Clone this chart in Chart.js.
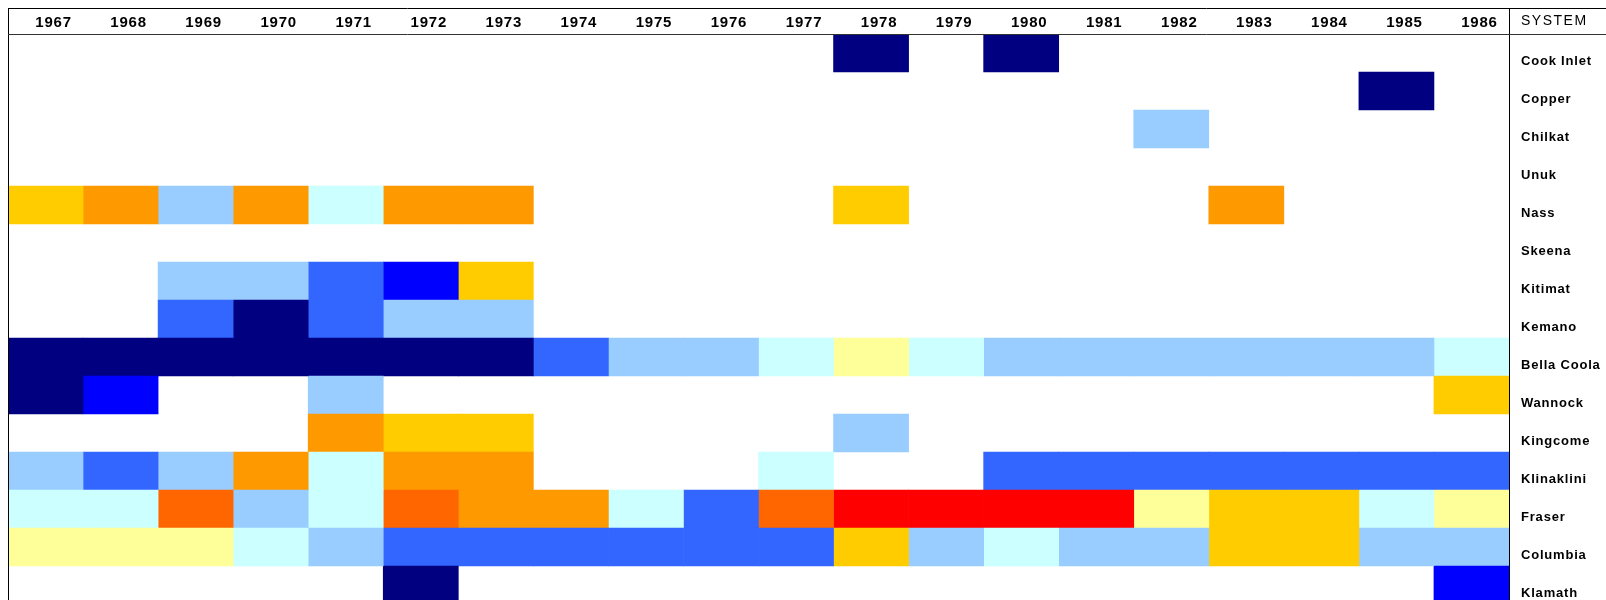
<!DOCTYPE html>
<html>
<head>
<meta charset="utf-8">
<title>Systems by year</title>
<script src="https://cdn.jsdelivr.net/npm/chart.js@4.4.1/dist/chart.umd.min.js"></script>
<style>
    html, body { margin: 0; padding: 0; background: #ffffff; overflow: hidden; }
    #wrap { width: 1606px; height: 604px; }
</style>
</head>
<body>
<div id="wrap"><canvas id="chart-heat"></canvas></div>
<script>
// Colunas (anos) e linhas (sistemas)
const years = ['1967', '1968', '1969', '1970', '1971', '1972', '1973', '1974', '1975', '1976',
               '1977', '1978', '1979', '1980', '1981', '1982', '1983', '1984', '1985', '1986'];
const systems = ['Cook Inlet', 'Copper', 'Chilkat', 'Unuk', 'Nass', 'Skeena', 'Kitimat', 'Kemano',
                 'Bella Coola', 'Wannock', 'Kingcome', 'Klinaklini', 'Fraser', 'Columbia', 'Klamath'];

// Classe de cada célula: -5 (azul escuro) ... -1 (ciano), 1 (amarelo claro) ... 5 (vermelho), null = vazio
const N = null;
const levels = [
    [N, N, N, N, N, N, N, N, N, N, N, -5, N, -5, N, N, N, N, N, N],          // Cook Inlet
    [N, N, N, N, N, N, N, N, N, N, N, N, N, N, N, N, N, N, -5, N],           // Copper
    [N, N, N, N, N, N, N, N, N, N, N, N, N, N, N, -2, N, N, N, N],           // Chilkat
    [N, N, N, N, N, N, N, N, N, N, N, N, N, N, N, N, N, N, N, N],            // Unuk
    [2, 3, -2, 3, -1, 3, 3, N, N, N, N, 2, N, N, N, N, 3, N, N, N],          // Nass
    [N, N, N, N, N, N, N, N, N, N, N, N, N, N, N, N, N, N, N, N],            // Skeena
    [N, N, -2, -2, -3, -4, 2, N, N, N, N, N, N, N, N, N, N, N, N, N],        // Kitimat
    [N, N, -3, -5, -3, -2, -2, N, N, N, N, N, N, N, N, N, N, N, N, N],       // Kemano
    [-5, -5, -5, -5, -5, -5, -5, -3, -2, -2, -1, 1, -1, -2, -2, -2, -2, -2, -2, -1], // Bella Coola
    [-5, -4, N, N, -2, N, N, N, N, N, N, N, N, N, N, N, N, N, N, 2],         // Wannock
    [N, N, N, N, 3, 2, 2, N, N, N, N, -2, N, N, N, N, N, N, N, N],           // Kingcome
    [-2, -3, -2, 3, -1, 3, 3, N, N, N, -1, N, N, -3, -3, -3, -3, -3, -3, -3], // Klinaklini
    [-1, -1, 4, -2, -1, 4, 3, 3, -1, -3, 4, 5, 5, 5, 5, 1, 2, 2, -1, 1],     // Fraser
    [1, 1, 1, -1, -2, -3, -3, -3, -3, -3, -3, 2, -2, -1, -2, -2, 2, 2, -2, -2], // Columbia
    [N, N, N, N, N, -5, N, N, N, N, N, N, N, N, N, N, N, N, N, -4]           // Klamath
];

// Paleta por classe
const palette = {
    '-5': '#000080', '-4': '#0000ff', '-3': '#3366ff', '-2': '#99ccff', '-1': '#ccffff',
    '1': '#ffff99', '2': '#ffcc00', '3': '#ff9900', '4': '#ff6600', '5': '#ff0000'
};

const FONT = "'Liberation Sans', Arial, sans-serif";

// Espaçamento entre letras dos rótulos (o original é mais "largo")
const spacingPlugin = {
    id: 'spacing',
    beforeDraw(chart) {
        chart.ctx.letterSpacing = '0.8px';
    }
};

// Moldura e cabeçalho "SYSTEM"
const framePlugin = {
    id: 'frame',
    afterDraw(chart) {
        const ctx = chart.ctx;
        const area = chart.chartArea;
        const W = chart.width;
        const H = chart.height;
        const top = 8;
        ctx.save();
        ctx.strokeStyle = '#000000';
        ctx.lineWidth = 1;
        ctx.beginPath();
        ctx.moveTo(area.left, top + 0.5); ctx.lineTo(W, top + 0.5);
        ctx.moveTo(area.left + 0.5, top); ctx.lineTo(area.left + 0.5, H);
        ctx.moveTo(Math.round(area.right) + 0.5, top); ctx.lineTo(Math.round(area.right) + 0.5, H);
        ctx.stroke();
        ctx.strokeStyle = '#333333';
        ctx.beginPath();
        ctx.moveTo(area.left, area.top + 0.5); ctx.lineTo(W, area.top + 0.5);
        ctx.stroke();

        ctx.fillStyle = '#000000';
        ctx.font = '14px ' + FONT;
        ctx.letterSpacing = '1.5px';
        ctx.textAlign = 'left';
        ctx.textBaseline = 'middle';
        ctx.fillText('SYSTEM', area.right + 12, (top + area.top) / 2 + 0.5);
        ctx.restore();
    }
};

// Um conjunto de barras flutuantes por ano
function buildDatasets() {
    return years.map((year, col) => ({
        label: year,
        data: systems.map((s, row) => levels[row][col] === null ? null : [col, col + 1]),
        backgroundColor: (c) => palette[String(levels[c.dataIndex][col])] || 'rgba(0,0,0,0)',
        borderWidth: 0,
        borderSkipped: false,
        grouped: false,
        barPercentage: 1,
        categoryPercentage: 1,
        xAxisID: 'x',
        yAxisID: 'y'
    }));
}

function renderChart() {
    const ctx = document.getElementById('chart-heat');
    new Chart(ctx, {
        type: 'bar',
        data: {
            labels: systems,
            datasets: buildDatasets()
        },
        options: {
            indexAxis: 'y',
            responsive: true,
            maintainAspectRatio: false,
            devicePixelRatio: 1,
            animation: false,
            layout: { padding: { left: 8, top: 8, right: 0, bottom: 0 } },
            plugins: {
                legend: { display: false },
                tooltip: { enabled: false }
            },
            scales: {
                x: {
                    type: 'linear',
                    display: false,
                    min: 0,
                    max: years.length
                },
                years: {
                    type: 'category',
                    position: 'top',
                    labels: years,
                    offset: true,
                    grid: { display: false, drawTicks: false },
                    border: { display: false },
                    ticks: {
                        color: '#000000',
                        font: { family: FONT, size: 15, weight: 'bold' },
                        padding: 2,
                        labelOffset: 8,
                        maxRotation: 0,
                        autoSkip: false
                    },
                    afterFit: (scale) => {
                        scale.height = 26;
                        scale.paddingLeft = 0;
                        scale.paddingRight = 0;
                    }
                },
                y: {
                    type: 'category',
                    position: 'right',
                    offset: true,
                    grid: { display: false, drawTicks: false },
                    border: { display: false },
                    ticks: {
                        color: '#000000',
                        font: { family: FONT, size: 13, weight: 'bold' },
                        padding: 12,
                        labelOffset: 8,
                        autoSkip: false
                    },
                    afterFit: (scale) => {
                        scale.width = 97;
                        scale.paddingTop = 0;
                        scale.paddingBottom = 0;
                    }
                }
            }
        },
        plugins: [spacingPlugin, framePlugin]
    });
}

renderChart();
</script>
</body>
</html>
